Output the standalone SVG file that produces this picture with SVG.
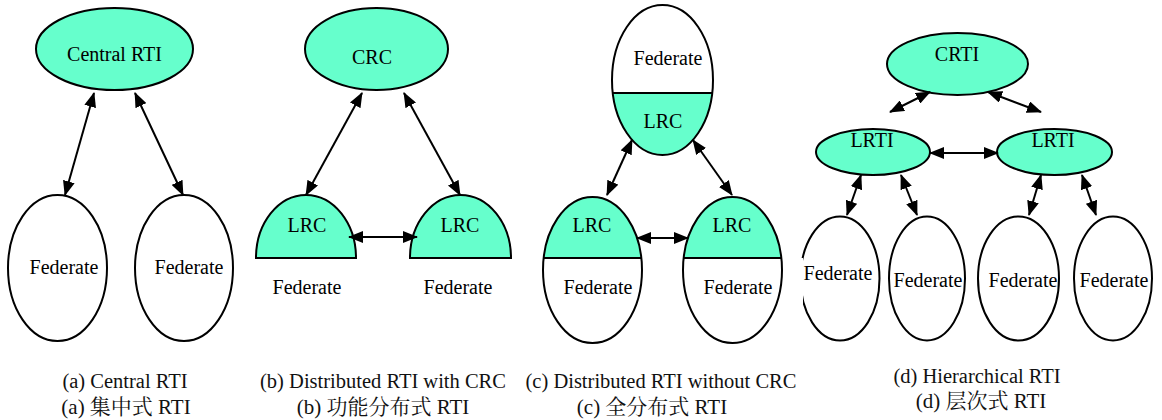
<svg xmlns="http://www.w3.org/2000/svg" width="1162" height="420" viewBox="0 0 1162 420">
<style>
.n{fill:#66FFCC;stroke:#000;stroke-width:2}
.w{fill:#fff;stroke:#000;stroke-width:2}
.g{fill:#66FFCC;stroke:none}
.o{fill:none;stroke:#000;stroke-width:2}
.t{fill:#000;text-anchor:middle}
.c{fill:#111;text-anchor:middle}
.e{stroke:#000;stroke-width:2;fill:none;marker-start:url(#ah);marker-end:url(#ah)}
</style>
<defs>
<marker id="ah" markerUnits="userSpaceOnUse" markerWidth="15" markerHeight="12" refX="14" refY="6" orient="auto-start-reverse" viewBox="0 0 15 12">
<path d="M0,0 L15,6 L0,12 z" fill="#000"/>
</marker>
<clipPath id="cBot"><rect x="600" y="93" width="130" height="70"/></clipPath>
<clipPath id="cU"><rect x="530" y="190" width="260" height="68"/></clipPath>
<clipPath id="cF1"><path d="M803,0 H1162 V420 H0 V315 H803 V258 H0 V0 Z"/></clipPath>
</defs>
<rect width="1162" height="420" fill="#fff"/>
<g id="a-central"><ellipse class="n" cx="114.5" cy="49" rx="78.5" ry="41"/><text class="t" font-family="Liberation Serif" font-size="20" x="114.5" y="61">Central RTI</text></g>
<g id="a-fed1"><ellipse class="w" cx="57.5" cy="268" rx="49.5" ry="73"/><text class="t" font-family="Liberation Serif" font-size="20" x="64" y="274">Federate</text></g>
<g id="a-fed2"><ellipse class="w" cx="184" cy="268" rx="49" ry="73"/><text class="t" font-family="Liberation Serif" font-size="20" x="189" y="274">Federate</text></g>

<g id="b-crc"><ellipse class="n" cx="376.5" cy="49" rx="71.5" ry="41"/><text class="t" font-family="Liberation Serif" font-size="20" x="372" y="64">CRC</text></g>
<g id="b-lrc1"><path class="n" d="M256,258 A50,63 0 0 1 356,258 Z"/><text class="t" font-family="Liberation Serif" font-size="20" x="307" y="232">LRC</text><text class="t" font-family="Liberation Serif" font-size="20" x="307" y="294">Federate</text></g>
<g id="b-lrc2"><path class="n" d="M410,258 A50.5,63 0 0 1 511,258 Z"/><text class="t" font-family="Liberation Serif" font-size="20" x="460" y="232">LRC</text><text class="t" font-family="Liberation Serif" font-size="20" x="458" y="294">Federate</text></g>

<g id="c-top">
<ellipse class="g" cx="662.5" cy="80" rx="50.5" ry="75" clip-path="url(#cBot)"/>
<ellipse class="o" cx="662.5" cy="80" rx="50.5" ry="75"/>
<line x1="612" y1="93" x2="713" y2="93" stroke="#000" stroke-width="2"/>
<text class="t" font-family="Liberation Serif" font-size="20" x="668" y="65">Federate</text><text class="t" font-family="Liberation Serif" font-size="20" x="663" y="128">LRC</text></g>
<g id="c-left">
<ellipse class="g" cx="592.5" cy="270" rx="49.5" ry="73" clip-path="url(#cU)"/>
<ellipse class="o" cx="592.5" cy="270" rx="49.5" ry="73"/>
<line x1="543" y1="258" x2="642" y2="258" stroke="#000" stroke-width="2"/>
<text class="t" font-family="Liberation Serif" font-size="20" x="592" y="232">LRC</text><text class="t" font-family="Liberation Serif" font-size="20" x="598" y="294">Federate</text></g>
<g id="c-right">
<ellipse class="g" cx="732.5" cy="270" rx="49.5" ry="73" clip-path="url(#cU)"/>
<ellipse class="o" cx="732.5" cy="270" rx="49.5" ry="73"/>
<line x1="683" y1="258" x2="782" y2="258" stroke="#000" stroke-width="2"/>
<text class="t" font-family="Liberation Serif" font-size="20" x="732" y="232">LRC</text><text class="t" font-family="Liberation Serif" font-size="20" x="738" y="294">Federate</text></g>

<g id="d-crti"><ellipse class="n" cx="957.5" cy="64" rx="70.5" ry="31"/><text class="t" font-family="Liberation Serif" font-size="20" x="957" y="61">CRTI</text></g>
<g id="d-lrti1"><ellipse class="n" cx="873" cy="152" rx="57" ry="23"/><text class="t" font-family="Liberation Serif" font-size="20" x="872" y="147">LRTI</text></g>
<g id="d-lrti2"><ellipse class="n" cx="1054.5" cy="152" rx="57.5" ry="23"/><text class="t" font-family="Liberation Serif" font-size="20" x="1053" y="147">LRTI</text></g>
<g id="d-fed1"><ellipse class="w" cx="840" cy="278.5" rx="39.5" ry="62" clip-path="url(#cF1)"/><text class="t" font-family="Liberation Serif" font-size="20" x="838" y="280">Federate</text></g>
<g id="d-fed2"><ellipse class="w" cx="927" cy="278.5" rx="38" ry="62"/><text class="t" font-family="Liberation Serif" font-size="20" x="928" y="287">Federate</text></g>
<g id="d-fed3"><ellipse class="w" cx="1018.5" cy="278.5" rx="40.5" ry="62"/><text class="t" font-family="Liberation Serif" font-size="20" x="1023" y="287">Federate</text></g>
<g id="d-fed4"><ellipse class="w" cx="1113" cy="278.5" rx="39" ry="62"/><text class="t" font-family="Liberation Serif" font-size="20" x="1114" y="287">Federate</text></g>

<g id="connectors">
<line class="e" x1="94" y1="93" x2="65" y2="195"/>
<line class="e" x1="135" y1="93" x2="183" y2="195"/>
<line class="e" x1="362" y1="93" x2="306" y2="195"/>
<line class="e" x1="404" y1="93" x2="460" y2="195"/>
<line class="e" x1="349" y1="237" x2="417" y2="237"/>
<line class="e" x1="632" y1="140" x2="607" y2="195"/>
<line class="e" x1="693" y1="140" x2="732" y2="195"/>
<line class="e" x1="637" y1="238" x2="688" y2="238"/>
<line class="e" x1="930" y1="92" x2="890" y2="112"/>
<line class="e" x1="988" y1="92" x2="1041" y2="112"/>
<line class="e" x1="930" y1="153" x2="998" y2="153"/>
<line class="e" x1="861" y1="175" x2="847" y2="215"/>
<line class="e" x1="901" y1="175" x2="917" y2="215"/>
<line class="e" x1="1041" y1="175" x2="1029" y2="215"/>
<line class="e" x1="1082" y1="175" x2="1096" y2="215"/>
</g>
<g id="captions">
<text class="c" font-family="Liberation Serif, Noto Serif CJK SC, serif" font-size="20.5" x="125" y="388">(a) Central RTI</text>
<text class="c" font-family="Liberation Serif, Noto Serif CJK SC, serif" font-size="21" x="126" y="414">(a)  集中式 RTI</text>
<text class="c" font-family="Liberation Serif, Noto Serif CJK SC, serif" font-size="20.5" x="383" y="388">(b) Distributed RTI with CRC</text>
<text class="c" font-family="Liberation Serif, Noto Serif CJK SC, serif" font-size="21" x="383" y="414">(b)  功能分布式 RTI</text>
<text class="c" font-family="Liberation Serif, Noto Serif CJK SC, serif" font-size="20.5" x="661" y="388">(c) Distributed RTI without CRC</text>
<text class="c" font-family="Liberation Serif, Noto Serif CJK SC, serif" font-size="21" x="652" y="414">(c)  全分布式 RTI</text>
<text class="c" font-family="Liberation Serif, Noto Serif CJK SC, serif" font-size="20.5" x="977" y="383">(d) Hierarchical RTI</text>
<text class="c" font-family="Liberation Serif, Noto Serif CJK SC, serif" font-size="21" x="981" y="408">(d)  层次式 RTI</text>
</g>
</svg>
